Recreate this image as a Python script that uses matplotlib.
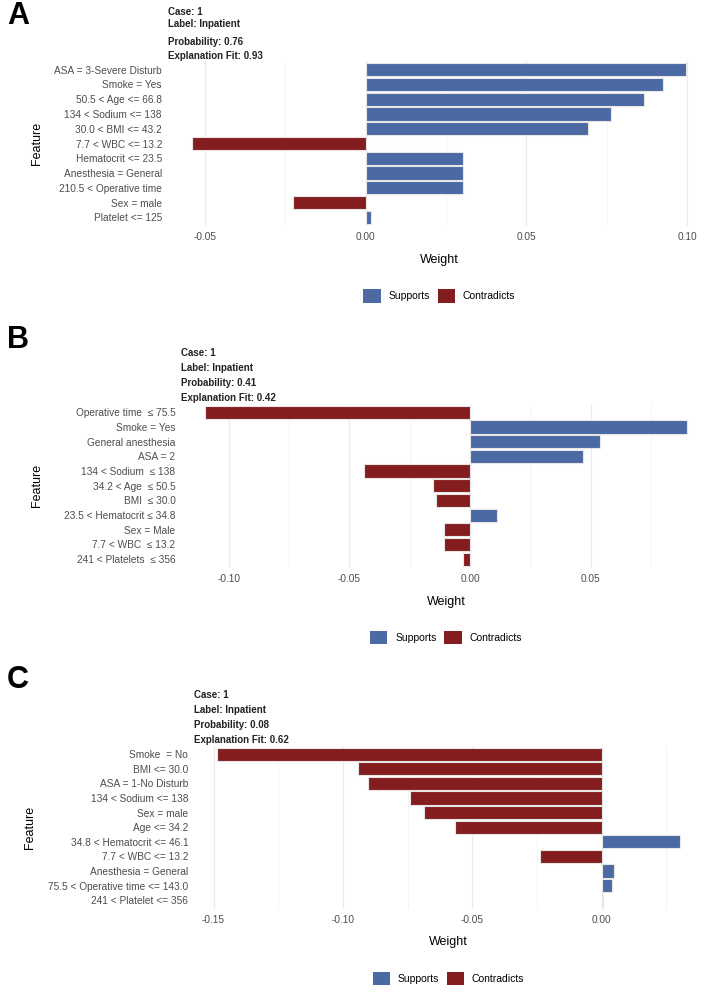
"""
LIME explanation bar charts for three cases (A, B, C)
"""
import matplotlib
matplotlib.use("Agg")
import matplotlib.pyplot as plt
from matplotlib.patches import Patch
from matplotlib.ticker import MultipleLocator, FormatStrFormatter

plt.rcParams['font.family'] = ['Liberation Sans', 'DejaVu Sans']
plt.rcParams['axes.unicode_minus'] = False

# --- data ---------------------------------------------------------------
features_a = ['ASA = 3-Severe Disturb', 'Smoke = Yes', '50.5 < Age <= 66.8',
              '134 < Sodium <= 138', '30.0 < BMI <= 43.2', '7.7 < WBC <= 13.2',
              'Hematocrit <= 23.5', 'Anesthesia = General', '210.5 < Operative time',
              'Sex = male', 'Platelet <= 125']
weights_a = [0.0998, 0.0924, 0.0866, 0.0763, 0.0691, -0.0540,
             0.0304, 0.0304, 0.0304, -0.0225, 0.0016]
info_a = ['Case: 1', 'Label: Inpatient', 'Probability: 0.76', 'Explanation Fit: 0.93']

features_b = ['Operative time  \u2264 75.5', 'Smoke = Yes', 'General anesthesia', 'ASA = 2',
              '134 < Sodium  \u2264 138', '34.2 < Age  \u2264 50.5', 'BMI  \u2264 30.0',
              '23.5 < Hematocrit \u2264 34.8', 'Sex = Male', '7.7 < WBC  \u2264 13.2',
              '241 < Platelets  \u2264 356']
weights_b = [-0.1098, 0.0898, 0.0539, 0.0466, -0.0439, -0.0153,
             -0.0142, 0.0113, -0.0110, -0.0110, -0.0029]
info_b = ['Case: 1', 'Label: Inpatient', 'Probability: 0.41', 'Explanation Fit: 0.42']

features_c = ['Smoke  = No', 'BMI <= 30.0', 'ASA = 1-No Disturb', '134 < Sodium <= 138',
              'Sex = male', 'Age <= 34.2', '34.8 < Hematocrit <= 46.1', '7.7 < WBC <= 13.2',
              'Anesthesia = General', '75.5 < Operative time <= 143.0', '241 < Platelet <= 356']
weights_c = [-0.1487, -0.0943, -0.0902, -0.0740, -0.0688, -0.0566,
             0.0304, -0.0238, 0.0049, 0.0039, 0.0005]
info_c = ['Case: 1', 'Label: Inpatient', 'Probability: 0.08', 'Explanation Fit: 0.62']

legend_labels = ['Supports', 'Contradicts']

# --- layout (pixels) ----------------------------------------------------
W, H = 711, 998
SUPPORT = '#4B6AA3'
CONTRA = '#841D1F'

panels = [
    # letter, features, weights, info, (left, right, top, bottom), info line centres, letter y
    ('A', features_a, weights_a, info_a, (167.5, 711, 60.8, 226.2), [12, 24, 42, 56], 16),
    ('B', features_b, weights_b, info_b, (181, 711, 403.5, 568), [353, 368, 383, 398], 340),
    ('C', features_c, weights_c, info_c, (193.7, 703.6, 745.5, 909), [695, 710, 725, 740], 680),
]

fig = plt.figure(figsize=(W / 100, H / 100), dpi=100)

for letter, feats, weights, info, box, info_y, letter_y in panels:
    left, right, top, bottom = box
    ax = fig.add_axes([left / W, 1 - bottom / H, (right - left) / W, (bottom - top) / H])
    ypos = list(range(len(feats)))
    colors = [SUPPORT if w >= 0 else CONTRA for w in weights]
    ax.barh(ypos, weights, height=0.9, color=colors, edgecolor='#E6E6E6', linewidth=0.8,
            zorder=3)
    ax.set_yticks(ypos)
    ax.set_yticklabels(feats)
    ax.set_ylim(len(feats) - 0.4, -0.6)
    ax.margins(x=0.05)

    ax.xaxis.set_major_locator(MultipleLocator(0.05))
    ax.xaxis.set_minor_locator(MultipleLocator(0.025))
    ax.xaxis.set_major_formatter(FormatStrFormatter('%.2f'))
    ax.grid(axis='x', which='major', color='#EBEBEB', linewidth=0.9, zorder=0)
    ax.grid(axis='x', which='minor', color='#F2F2F2', linewidth=0.6, zorder=0)
    ax.grid(axis='y', visible=False)
    for s in ax.spines.values():
        s.set_visible(False)
    ax.tick_params(axis='both', which='both', length=0, labelsize=7.3, colors='#4D4D4D')
    ax.tick_params(axis='x', pad=4)
    ax.tick_params(axis='y', pad=4)

    h_px = bottom - top
    w_px = right - left
    ax.set_xlabel('Weight', fontsize=9, va='center')
    ax.xaxis.set_label_coords(0.5, -33.5 / h_px)
    ax.set_ylabel('Feature', fontsize=9, va='center')
    feat_x = 37 if letter != 'C' else 30
    ax.yaxis.set_label_coords((feat_x - left) / w_px, 0.5)

    handles = [Patch(facecolor=SUPPORT), Patch(facecolor=CONTRA)]
    ax.legend(handles, legend_labels, loc='center', bbox_to_anchor=(0.5, -69.5 / h_px),
              ncol=2, frameon=False, fontsize=7.5, handlelength=1.65, handleheight=1.65,
              handletextpad=0.75, columnspacing=0.75)

    for line, yc in zip(info, info_y):
        fig.text(left / W, 1 - yc / H, line, fontsize=7, fontweight='bold',
                 va='center', ha='left', color='#222222')

    fig.text(7 / W, 1 - letter_y / H, letter, fontsize=22, fontweight='bold',
             va='center', ha='left')

fig.savefig('out.png', dpi=100)
